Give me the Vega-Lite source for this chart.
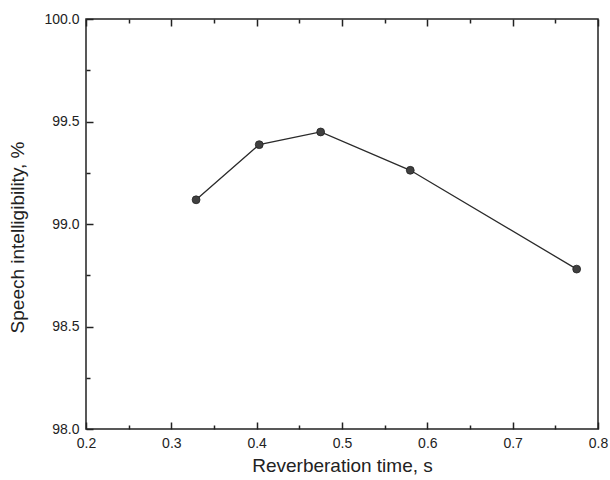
{
  "$schema": "https://vega.github.io/schema/vega-lite/v6.json",
  "autosize": "none",
  "width": 512,
  "height": 410,
  "padding": {"left": 86, "top": 19, "right": 12, "bottom": 51},
  "background": "white",
  "config": {
    "view": {"stroke": "#222222", "strokeWidth": 1.5},
    "axis": {
      "domain": false,
      "grid": false,
      "labelFont": "Liberation Sans",
      "titleFont": "Liberation Sans",
      "labelFontSize": 14,
      "titleFontSize": 19,
      "titleFontWeight": "normal",
      "labelColor": "#222222",
      "titleColor": "#222222",
      "tickColor": "#222222",
      "tickWidth": 1.5
    }
  },
  "data": {
    "values": [
      {"rt": 0.329, "si": 99.118},
      {"rt": 0.403, "si": 99.387},
      {"rt": 0.475, "si": 99.449},
      {"rt": 0.580, "si": 99.262},
      {"rt": 0.775, "si": 98.78}
    ]
  },
  "layer": [
    {
      "mark": {"type": "line", "color": "#2a2a2a", "strokeWidth": 1.3},
      "encoding": {
        "x": {
          "field": "rt", "type": "quantitative",
          "scale": {"domain": [0.2, 0.8], "nice": false, "zero": false},
          "axis": {
            "orient": "bottom",
            "title": "Reverberation time, s",
            "titlePadding": 6,
            "values": [0.2, 0.25, 0.3, 0.35, 0.4, 0.45, 0.5, 0.55, 0.6, 0.65, 0.7, 0.75, 0.8],
            "labelExpr": "abs(datum.value*10 - round(datum.value*10)) < 0.01 ? format(datum.value, '.1f') : ''",
            "tickSize": {"condition": {"test": "abs(datum.value*10 - round(datum.value*10)) < 0.01", "value": -7}, "value": -4},
            "labelPadding": 14,
            "labelFlush": false
          }
        },
        "y": {
          "field": "si", "type": "quantitative",
          "scale": {"domain": [98, 100], "nice": false, "zero": false},
          "axis": {
            "orient": "left",
            "title": "Speech intelligibility, %",
            "titlePadding": 16,
            "titleY": 218,
            "values": [98, 98.25, 98.5, 98.75, 99, 99.25, 99.5, 99.75, 100],
            "labelExpr": "abs(datum.value*2 - round(datum.value*2)) < 0.01 ? format(datum.value, '.1f') : ''",
            "tickSize": {"condition": {"test": "abs(datum.value*2 - round(datum.value*2)) < 0.01", "value": -7}, "value": -4},
            "labelPadding": 14,
            "labelFlush": false
          }
        }
      }
    },
    {
      "mark": {"type": "point", "filled": true, "color": "#404040", "opacity": 1, "size": 62, "stroke": "#222222", "strokeWidth": 0.8},
      "encoding": {
        "x": {
          "field": "rt", "type": "quantitative",
          "scale": {"domain": [0.2, 0.8], "nice": false, "zero": false},
          "axis": {
            "orient": "top",
            "title": null,
            "labels": false,
            "values": [0.2, 0.25, 0.3, 0.35, 0.4, 0.45, 0.5, 0.55, 0.6, 0.65, 0.7, 0.75, 0.8],
            "tickSize": {"condition": {"test": "abs(datum.value*10 - round(datum.value*10)) < 0.01", "value": -7}, "value": -4}
          }
        },
        "y": {"field": "si", "type": "quantitative", "scale": {"domain": [98, 100], "nice": false, "zero": false}, "axis": null}
      }
    }
  ],
  "resolve": {"axis": {"x": "independent", "y": "independent"}}
}
